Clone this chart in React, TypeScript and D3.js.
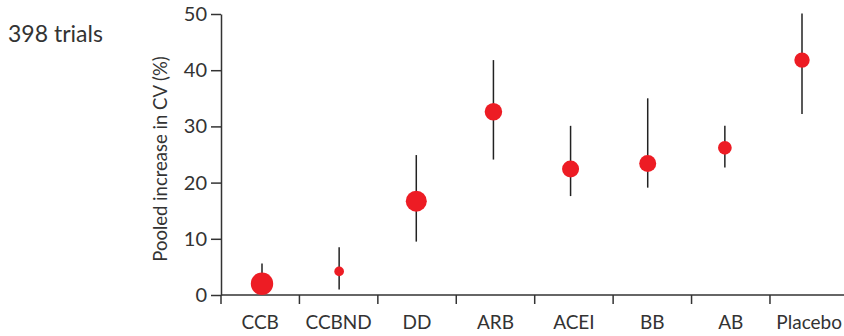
import React, { useEffect, useRef } from "react";
import * as d3 from "d3";

// drug classes along the x axis
const classes = ["CCB", "CCBND", "DD", "ARB", "ACEI", "BB", "AB", "Placebo"];
// pooled increase in CV (%), with lower and upper bounds
const pooled = [2.0, 4.2, 16.7, 32.6, 22.4, 23.4, 26.2, 41.8];
const lower = [0.5, 1.0, 9.5, 24.1, 17.6, 19.1, 22.7, 32.2];
const upper = [5.6, 8.5, 24.9, 41.8, 30.1, 35.0, 30.1, 50.1];
// number of trials per class (sets the marker size)
const trials = [85, 16, 75, 52, 49, 49, 32, 40];
const yTicks = [0, 10, 20, 30, 40, 50];

const W = 844;
const H = 336;

export default function App() {
  const svgRef = useRef<SVGSVGElement>(null);

  useEffect(() => {
    const svg = d3.select(svgRef.current);
    svg.selectAll("*").remove();

    const axisColor = "#333";
    const font = "Lato, 'Open Sans', sans-serif";

    const y = d3.scaleLinear().domain([0, 50]).range([295, 14]);
    const xBand = d3.scaleBand().domain(classes).range([221, 848.4]);
    const xPoint = d3.scalePoint().domain(classes).range([262, 802]);
    const r = d3.scaleSqrt().domain([0, d3.max(trials)!]).range([0, 11.2]);

    // y axis
    const yAxis = d3
      .axisLeft(y)
      .tickValues(yTicks)
      .tickSize(10)
      .tickSizeOuter(0)
      .tickPadding(4);
    const gy = svg.append("g").attr("transform", "translate(221,0)").call(yAxis);
    gy.selectAll("path, line").attr("stroke", axisColor).attr("stroke-width", 1.5);
    gy.selectAll("text")
      .attr("fill", axisColor)
      .style("font-family", font)
      .style("font-size", "20px");

    // x axis: line, ticks at band edges, labels at band centres
    const gx = svg.append("g");
    gx.append("line")
      .attr("x1", xBand.range()[0])
      .attr("x2", xBand.range()[1])
      .attr("y1", y(0))
      .attr("y2", y(0))
      .attr("stroke", axisColor)
      .attr("stroke-width", 1.5);
    gx.selectAll(".tick")
      .data(classes)
      .join("line")
      .attr("x1", (d) => xBand(d)!)
      .attr("x2", (d) => xBand(d)!)
      .attr("y1", y(0))
      .attr("y2", y(0) + 9)
      .attr("stroke", axisColor)
      .attr("stroke-width", 1.5);
    gx.selectAll(".label")
      .data(classes)
      .join("text")
      .attr("x", (d) => xBand(d)! + xBand.bandwidth() / 2)
      .attr("y", 329)
      .attr("text-anchor", "middle")
      .attr("fill", axisColor)
      .style("font-family", font)
      .style("font-size", "19px")
      .text((d) => d);

    // y title
    svg
      .append("text")
      .attr("transform", "translate(167,159) rotate(-90)")
      .attr("text-anchor", "middle")
      .attr("fill", axisColor)
      .style("font-family", font)
      .style("font-size", "18.5px")
      .text("Pooled increase in CV (%)");

    // whiskers
    svg
      .selectAll(".whisker")
      .data(classes)
      .join("line")
      .attr("x1", (d) => xPoint(d)!)
      .attr("x2", (d) => xPoint(d)!)
      .attr("y1", (d, i) => y(lower[i]))
      .attr("y2", (d, i) => y(upper[i]))
      .attr("stroke", "#222")
      .attr("stroke-width", 1.5);

    // pooled estimates
    svg
      .selectAll(".dot")
      .data(classes)
      .join("circle")
      .attr("cx", (d) => xPoint(d)!)
      .attr("cy", (d, i) => y(pooled[i]))
      .attr("r", (d, i) => r(trials[i]))
      .attr("fill", "#ed1c24");

    svg
      .append("text")
      .attr("x", 8)
      .attr("y", 42)
      .attr("fill", axisColor)
      .style("font-family", font)
      .style("font-size", "23px")
      .text(d3.sum(trials) + " trials");
  }, []);

  return (
    <svg
      ref={svgRef}
      width={W}
      height={H}
      style={{ position: "absolute", left: 0, top: 0, background: "#fff" }}
    ></svg>
  );
}
